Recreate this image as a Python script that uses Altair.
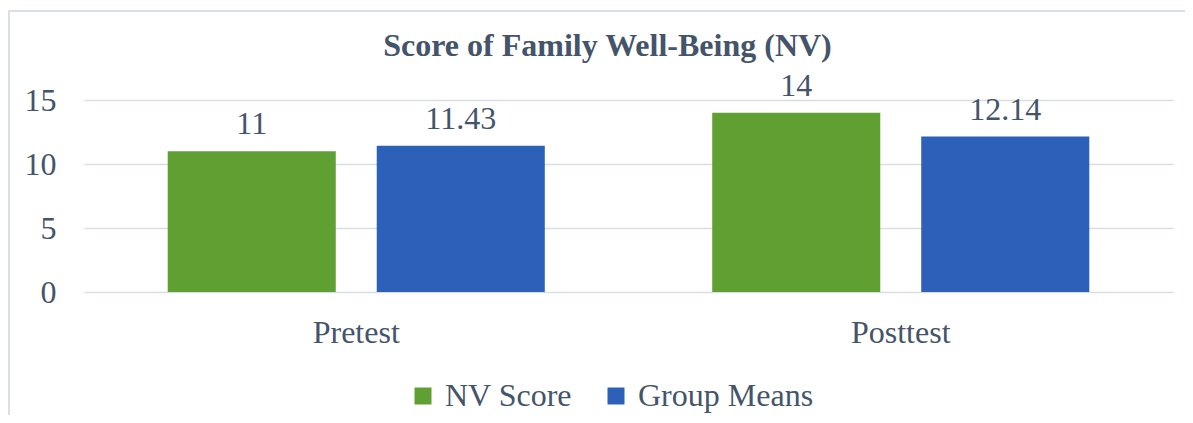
import altair as alt
import pandas as pd

categories = ["Pretest", "Posttest"]
series = ["NV Score", "Group Means"]
nv_score = [11, 14]
group_means = [11.43, 12.14]
y_ticks = [0, 5, 10, 15]
colors = ["#60A032", "#2C60B9"]

rows = []
for i, c in enumerate(categories):
    for s, vals in zip(series, [nv_score, group_means]):
        rows.append({"Phase": c, "Series": s, "Value": vals[i], "Label": f"{vals[i]:g}"})
df = pd.DataFrame(rows)

FONT = "Liberation Serif"
TXT = "#44546A"
FS = 32

x = alt.X("Phase:N", sort=categories, title=None,
          scale=alt.Scale(paddingInner=0, paddingOuter=0),
          axis=alt.Axis(labelAngle=0, labelFontSize=FS, labelFont=FONT, labelColor=TXT,
                        ticks=False, domain=False, labelPadding=25, grid=False))
xo = alt.XOffset("Series:N", sort=series,
                 scale=alt.Scale(paddingInner=0.196, paddingOuter=0.4005))
y = alt.Y("Value:Q", title=None,
          scale=alt.Scale(domain=[0, 15], nice=False),
          axis=alt.Axis(values=y_ticks, labelFontSize=FS, labelFont=FONT, labelColor=TXT,
                        ticks=False, domain=False, labelPadding=28,
                        gridColor="#D9DEE6", gridWidth=1.5))

bars = alt.Chart(df).mark_bar().encode(
    x=x, xOffset=xo, y=y,
    color=alt.Color("Series:N", sort=series,
                    scale=alt.Scale(domain=series, range=colors),
                    legend=alt.Legend(title=None, orient="none", direction="horizontal",
                                      legendX=323, legendY=280,
                                      symbolType="square", symbolSize=289,
                                      symbolStrokeWidth=0,
                                      labelFont=FONT, labelFontSize=FS, labelColor=TXT,
                                      labelLimit=400,
                                      labelOffset=6, columnPadding=27, padding=0)),
)

labels = alt.Chart(df).mark_text(font=FONT, fontSize=FS, color=TXT,
                                 baseline="alphabetic", dy=-17).encode(
    x=x, xOffset=xo, y=y, text="Label:N")

frame = alt.Chart(alt.Data(values=[{"a": 1}])).mark_rect(
    filled=False, stroke="#D9DEE8", strokeWidth=2).encode(
    x=alt.value(-75), x2=alt.value(1300), y=alt.value(-89), y2=alt.value(500))

chart = alt.layer(frame, bars, labels).properties(
    width=1089, height=192,
    title=alt.TitleParams("Score of Family Well-Being (NV)", font=FONT, fontSize=32,
                          fontWeight="bold", color=TXT, anchor="middle", frame="group",
                          baseline="alphabetic", offset=0, dy=78, dx=-21),
    autosize=alt.AutoSizeParams(type="none"),
    padding={"left": 76, "top": 92, "right": 12, "bottom": 123},
).configure(background="white").configure_view(stroke=None)

chart.save("out.html", embed_options={"renderer": "svg", "actions": False})
